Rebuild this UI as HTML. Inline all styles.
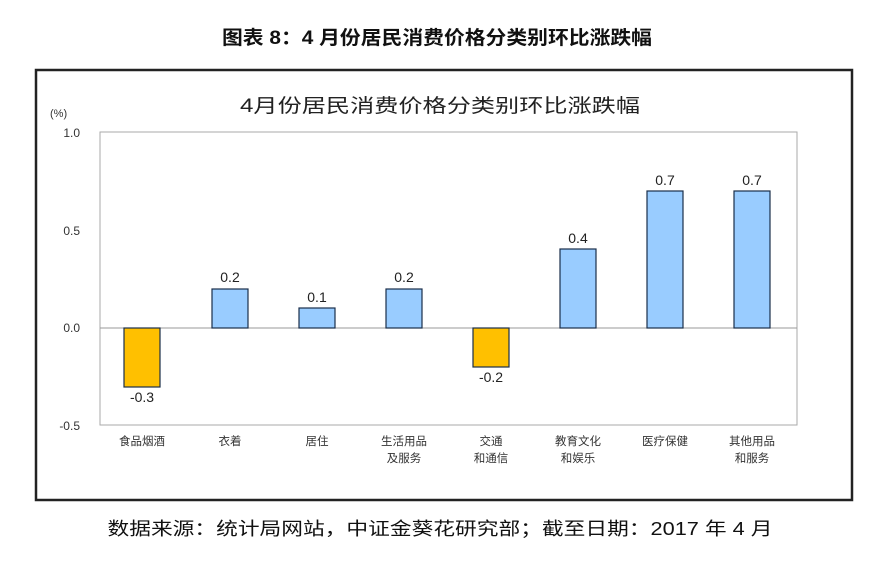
<!DOCTYPE html>
<html><head><meta charset="utf-8"><style>
body{margin:0;width:870px;height:559px;background:#fff;overflow:hidden;font-family:"Liberation Sans","Noto Sans CJK SC",sans-serif;}
</style></head><body>
<svg width="870" height="559" xmlns="http://www.w3.org/2000/svg" font-family="Liberation Sans, Noto Sans CJK SC, sans-serif">
<text x="437" y="44" text-anchor="middle" font-size="19" font-weight="bold" fill="#111" textLength="430" lengthAdjust="spacingAndGlyphs">图表 8：4 月份居民消费价格分类别环比涨跌幅</text>
<rect x="36" y="70" width="816" height="430" fill="#fff" stroke="#222" stroke-width="2.5"/>
<text x="440" y="112" text-anchor="middle" font-size="19" fill="#222" textLength="400" lengthAdjust="spacingAndGlyphs">4月份居民消费价格分类别环比涨跌幅</text>
<text x="50" y="117" font-size="11" fill="#333">(%)</text>
<rect x="100" y="132" width="697" height="293" fill="#fff" stroke="#aaa" stroke-width="1"/>
<g font-size="12" fill="#333" text-anchor="end">
<text x="80" y="137">1.0</text><text x="80" y="235">0.5</text><text x="80" y="332">0.0</text><text x="80" y="430">-0.5</text>
</g>
<line x1="100" y1="328" x2="797" y2="328" stroke="#999"/>
<g stroke="#1a2e4a" stroke-width="1.2">
<rect x="124" y="328" width="36" height="59" fill="#ffc000"/>
<rect x="212" y="289" width="36" height="39" fill="#99ccff"/>
<rect x="299" y="308" width="36" height="20" fill="#99ccff"/>
<rect x="386" y="289" width="36" height="39" fill="#99ccff"/>
<rect x="473" y="328" width="36" height="39" fill="#ffc000"/>
<rect x="560" y="249" width="36" height="79" fill="#99ccff"/>
<rect x="647" y="191" width="36" height="137" fill="#99ccff"/>
<rect x="734" y="191" width="36" height="137" fill="#99ccff"/>
</g>
<g font-size="14" fill="#222" text-anchor="middle">
<text x="142" y="402">-0.3</text><text x="230" y="282">0.2</text><text x="317" y="302">0.1</text><text x="404" y="282">0.2</text>
<text x="491" y="382">-0.2</text><text x="578" y="243">0.4</text><text x="665" y="185">0.7</text><text x="752" y="185">0.7</text>
</g>
<g font-size="11.5" fill="#333" text-anchor="middle">
<text x="142" y="445">食品烟酒</text><text x="230" y="445">衣着</text><text x="317" y="445">居住</text>
<text x="404" y="445">生活用品</text><text x="404" y="462">及服务</text>
<text x="491" y="445">交通</text><text x="491" y="462">和通信</text>
<text x="578" y="445">教育文化</text><text x="578" y="462">和娱乐</text>
<text x="665" y="445">医疗保健</text>
<text x="752" y="445">其他用品</text><text x="752" y="462">和服务</text>
</g>
<text x="440" y="535" text-anchor="middle" font-size="18" fill="#111" textLength="665" lengthAdjust="spacingAndGlyphs">数据来源：统计局网站，中证金葵花研究部；截至日期：2017 年 4 月</text>
</svg>
</body></html>
